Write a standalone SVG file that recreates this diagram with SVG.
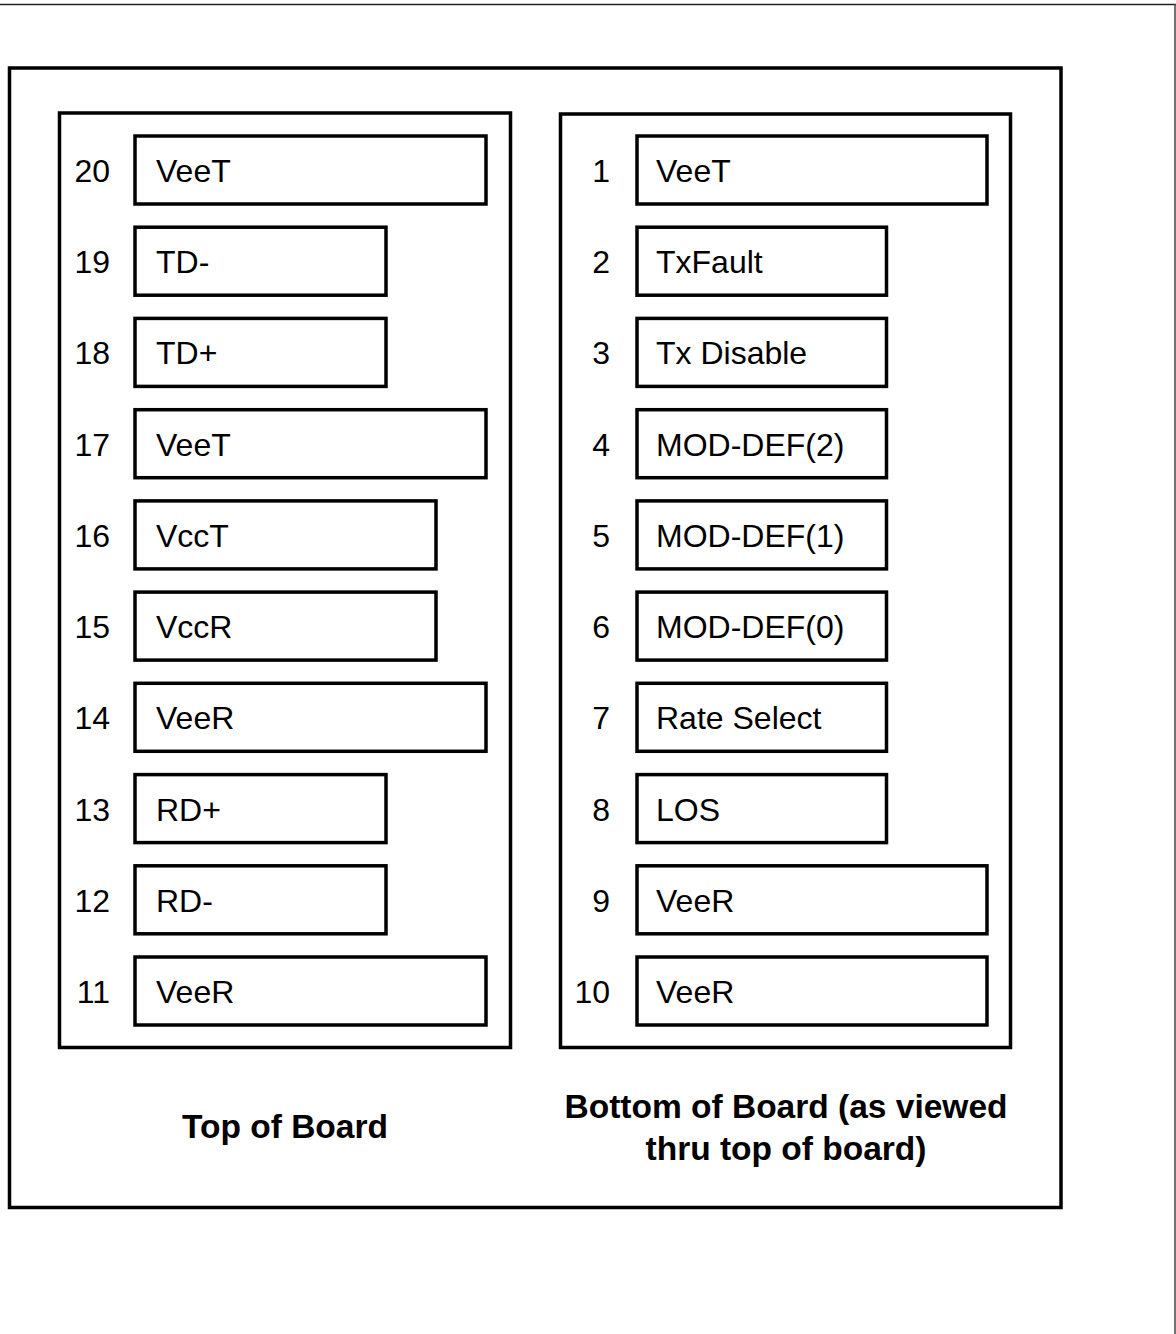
<svg xmlns="http://www.w3.org/2000/svg" width="1176" height="1334" viewBox="0 0 1176 1334">
<style>
.frame{fill:none;stroke:#000;stroke-width:3.5}
.pin{fill:#fff;stroke:#000;stroke-width:3.5}
.lbl{font-family:"Liberation Sans",Arial,sans-serif;font-size:32px;fill:#000}
.num{font-family:"Liberation Sans",Arial,sans-serif;font-size:32px;fill:#000;text-anchor:end}
.cap{font-family:"Liberation Sans",Arial,sans-serif;font-size:33.5px;font-weight:bold;fill:#000;text-anchor:middle}
</style>
<rect width="1176" height="1334" fill="#fff"/>
<g id="page-border">
<line x1="0" y1="4.5" x2="1176" y2="4.5" stroke="#222" stroke-width="1.5"/>
<line x1="1175" y1="4" x2="1175" y2="1334" stroke="#444" stroke-width="1.5"/>
</g>
<g id="main-frame"><rect class="frame" x="9.5" y="68" width="1051.5" height="1139.5"/></g>
<g id="top-panel"><rect class="frame" x="59.5" y="113" width="451" height="934.5"/></g>
<g id="bottom-panel"><rect class="frame" x="560.5" y="114" width="450" height="933.5"/></g>

<g id="pin20"><rect class="pin" x="135" y="136" width="351" height="68"/><text class="num" x="110" y="182">20</text><text class="lbl" x="156" y="182">VeeT</text></g>
<g id="pin19"><rect class="pin" x="135" y="227.2" width="251" height="68"/><text class="num" x="110" y="273.2">19</text><text class="lbl" x="156" y="273.2">TD-</text></g>
<g id="pin18"><rect class="pin" x="135" y="318.4" width="251" height="68"/><text class="num" x="110" y="364.4">18</text><text class="lbl" x="156" y="364.4">TD+</text></g>
<g id="pin17"><rect class="pin" x="135" y="409.7" width="351" height="68"/><text class="num" x="110" y="455.7">17</text><text class="lbl" x="156" y="455.7">VeeT</text></g>
<g id="pin16"><rect class="pin" x="135" y="500.9" width="301" height="68"/><text class="num" x="110" y="546.9">16</text><text class="lbl" x="156" y="546.9">VccT</text></g>
<g id="pin15"><rect class="pin" x="135" y="592.1" width="301" height="68"/><text class="num" x="110" y="638.1">15</text><text class="lbl" x="156" y="638.1">VccR</text></g>
<g id="pin14"><rect class="pin" x="135" y="683.3" width="351" height="68"/><text class="num" x="110" y="729.3">14</text><text class="lbl" x="156" y="729.3">VeeR</text></g>
<g id="pin13"><rect class="pin" x="135" y="774.6" width="251" height="68"/><text class="num" x="110" y="820.6">13</text><text class="lbl" x="156" y="820.6">RD+</text></g>
<g id="pin12"><rect class="pin" x="135" y="865.8" width="251" height="68"/><text class="num" x="110" y="911.8">12</text><text class="lbl" x="156" y="911.8">RD-</text></g>
<g id="pin11"><rect class="pin" x="135" y="957" width="351" height="68"/><text class="num" x="110" y="1003">11</text><text class="lbl" x="156" y="1003">VeeR</text></g>

<g id="pin1"><rect class="pin" x="637" y="136" width="350" height="68"/><text class="num" x="610" y="182">1</text><text class="lbl" x="656" y="182">VeeT</text></g>
<g id="pin2"><rect class="pin" x="637" y="227.2" width="249.5" height="68"/><text class="num" x="610" y="273.2">2</text><text class="lbl" x="656" y="273.2">TxFault</text></g>
<g id="pin3"><rect class="pin" x="637" y="318.4" width="249.5" height="68"/><text class="num" x="610" y="364.4">3</text><text class="lbl" x="656" y="364.4">Tx Disable</text></g>
<g id="pin4"><rect class="pin" x="637" y="409.7" width="249.5" height="68"/><text class="num" x="610" y="455.7">4</text><text class="lbl" x="656" y="455.7">MOD-DEF(2)</text></g>
<g id="pin5"><rect class="pin" x="637" y="500.9" width="249.5" height="68"/><text class="num" x="610" y="546.9">5</text><text class="lbl" x="656" y="546.9">MOD-DEF(1)</text></g>
<g id="pin6"><rect class="pin" x="637" y="592.1" width="249.5" height="68"/><text class="num" x="610" y="638.1">6</text><text class="lbl" x="656" y="638.1">MOD-DEF(0)</text></g>
<g id="pin7"><rect class="pin" x="637" y="683.3" width="249.5" height="68"/><text class="num" x="610" y="729.3">7</text><text class="lbl" x="656" y="729.3">Rate Select</text></g>
<g id="pin8"><rect class="pin" x="637" y="774.6" width="249.5" height="68"/><text class="num" x="610" y="820.6">8</text><text class="lbl" x="656" y="820.6">LOS</text></g>
<g id="pin9"><rect class="pin" x="637" y="865.8" width="350" height="68"/><text class="num" x="610" y="911.8">9</text><text class="lbl" x="656" y="911.8">VeeR</text></g>
<g id="pin10"><rect class="pin" x="637" y="957" width="350" height="68"/><text class="num" x="610" y="1003">10</text><text class="lbl" x="656" y="1003">VeeR</text></g>

<g id="captions">
<text class="cap" x="285" y="1138">Top of Board</text>
<text class="cap" x="786" y="1118">Bottom of Board (as viewed</text>
<text class="cap" x="786" y="1160">thru top of board)</text>
</g>
<g id="connectors"></g>
</svg>
